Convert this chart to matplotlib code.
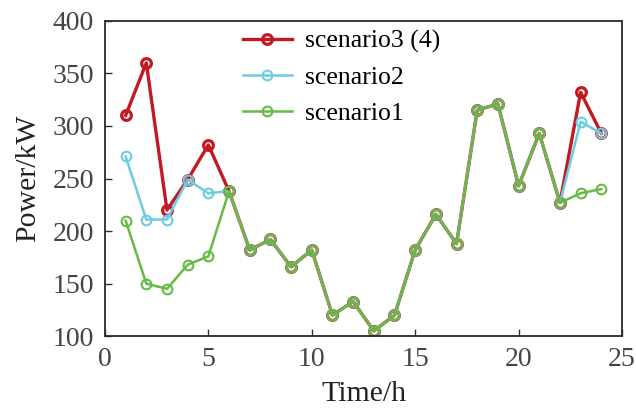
import numpy as np
import matplotlib
matplotlib.use('Agg')
import matplotlib.pyplot as plt

plt.rcParams['font.family'] = ['Liberation Serif', 'Noto Sans CJK SC', 'DejaVu Sans']

# data
hours = np.arange(1, 25)
scenario1 = [210, 150, 145, 168, 176, 238, 182, 192, 166, 182, 120, 133,
             105, 120, 182, 216, 188, 315, 321, 243, 293, 227, 236, 240]
scenario2 = [271, 211, 211, 249, 236, 238, 182, 192, 166, 182, 120, 133,
             105, 120, 182, 216, 188, 315, 321, 243, 293, 227, 304, 293]
scenario3 = [310, 360, 220, 249, 282, 238, 182, 192, 166, 182, 120, 133,
             105, 120, 182, 216, 188, 315, 321, 243, 293, 227, 332, 293]

red = '#C21A22'
blue = '#6CCCE0'
green = '#66BB44'

fig = plt.figure(figsize=(6.36, 4.09), dpi=100)
ax = fig.add_axes([0.165, 0.178, 0.813, 0.771])

ax.plot(hours, scenario3, color=red, lw=2.4, marker='o', ms=7, mfc='none',
        mew=2.3, label='scenario3 (4)')
ax.plot(hours, scenario2, color=blue, lw=1.8, marker='o', ms=7, mfc='none',
        mew=1.5, label='scenario2')
ax.plot(hours, scenario1, color=green, lw=1.8, marker='o', ms=7, mfc='none',
        mew=1.5, label='scenario1')

ax.set_xlim(0, 25)
ax.set_ylim(100, 400)
ax.set_xticks([0, 5, 10, 15, 20, 25])
ax.set_yticks([100, 150, 200, 250, 300, 350, 400])
ax.tick_params(direction='in', labelsize=20, length=5, width=1, colors='#333333',
               labelcolor='#444444', top=False, right=False, pad=8)
for s in ax.spines.values():
    s.set_color('#2a2a2a')
    s.set_linewidth(1.3)

ax.set_xlabel('Time/h', fontsize=21.5, labelpad=6, color='#222222')
ax.set_ylabel('Power/kW', fontsize=21.5, labelpad=8, color='#222222')

ax.legend(loc='upper left', bbox_to_anchor=(0.267, 0.972), frameon=False,
          fontsize=18.5, handlelength=1.9, labelspacing=0.5, handletextpad=0.5,
          borderaxespad=0, borderpad=0)

fig.savefig('out.png', dpi=100)
